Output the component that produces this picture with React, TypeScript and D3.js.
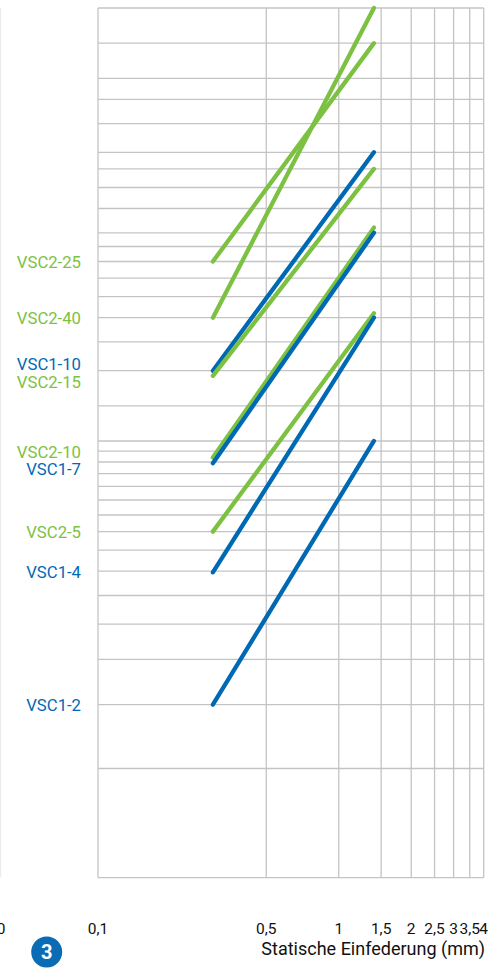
import React from "react";
import * as d3 from "d3";

const W = 493;
const H = 970;

const xTicks = [0.1, 0.5, 1, 1.5, 2, 2.5, 3, 3.5, 4];
const xTickLabels = ["0,1", "0,5", "1", "1,5", "2", "2,5", "3", "3,5", "4"];
const yGrid = [1, 2, 3, 4, 5, 6, 7, 8, 9, 10, 11, 12, 13, 14, 15, 16, 20, 25, 30, 35, 40, 45, 50, 55, 60, 70, 80, 90, 100, 120, 140, 160, 200, 250];

const seriesNames = ["VSC2-25", "VSC2-40", "VSC1-10", "VSC2-15", "VSC2-10", "VSC1-7", "VSC2-5", "VSC1-4", "VSC1-2"];
const seriesGroup = ["VSC2", "VSC2", "VSC1", "VSC2", "VSC2", "VSC1", "VSC2", "VSC1", "VSC1"];
const deflectionStart = [0.3, 0.3, 0.3, 0.3, 0.3, 0.3, 0.3, 0.3, 0.3];
const deflectionEnd = [1.4, 1.4, 1.4, 1.4, 1.4, 1.4, 1.4, 1.4, 1.4];
const loadStart = [50, 35, 25, 24.2, 14.4, 13.9, 9, 6.95, 3];
const loadEnd = [200, 250, 100, 90, 62, 60, 36, 35, 16];

const GREEN = "#7cc142";
const BLUE = "#0069b4";
const GRID = "#c4c4c4";

export default function App() {
  const x = d3.scaleLog().domain([0.1, 4]).range([98, 483.7]);
  const y = d3.scaleLog().domain([1, 250]).range([877.7, 8]);
  const line = d3
    .line<[number, number]>()
    .x((d) => x(d[0]))
    .y((d) => y(d[1]));

  const colorOf = (g: string) => (g === "VSC1" ? BLUE : GREEN);

  // label positions: start y, spread apart when too close
  const minGap = 17.7;
  const labels = seriesNames.map((n, i) => ({ n, i, y: y(loadStart[i]) }));
  const sorted = [...labels].sort((a, b) => a.y - b.y);
  for (let k = 0; k < sorted.length - 1; k++) {
    const a = sorted[k];
    const b = sorted[k + 1];
    if (b.y - a.y < minGap) {
      const c = (a.y + b.y) / 2;
      a.y = c - minGap / 2;
      b.y = c + minGap / 2;
    }
  }

  const font = "Roboto, 'Liberation Sans', sans-serif";
  const [x0, x1] = x.range();
  const [yb, yt] = y.range();

  // draw order: overlapping pair 7/8 green below blue
  const order = [0, 1, 2, 3, 4, 5, 6, 7, 8];

  return (
    <svg
      width={W}
      height={H}
      style={{ position: "absolute", left: 0, top: 0, background: "#fff" }}
    >
      <line x1={0.5} x2={0.5} y1={yt} y2={yb} stroke="#ececec" strokeWidth={1.3} />
      {yGrid.map((v) => (
        <line key={"h" + v} x1={x0} x2={x1} y1={y(v)} y2={y(v)} stroke={GRID} strokeWidth={1.3} />
      ))}
      {xTicks.map((v) => (
        <line key={"v" + v} x1={x(v)} x2={x(v)} y1={yt} y2={yb} stroke={GRID} strokeWidth={1.3} />
      ))}
      {order.map((i) => (
        <path
          key={seriesNames[i]}
          d={line([
            [deflectionStart[i], loadStart[i]],
            [deflectionEnd[i], loadEnd[i]],
          ]) as string}
          fill="none"
          stroke={colorOf(seriesGroup[i])}
          strokeWidth={4.3}
          strokeLinecap="round"
        />
      ))}
      {labels.map((l) => (
        <text
          key={"l" + l.n}
          x={81}
          y={l.y}
          dy="0.36em"
          textAnchor="end"
          fontFamily={font}
          fontSize={16.7}
          fill={colorOf(seriesGroup[l.i])}
        >
          {l.n}
        </text>
      ))}
      {xTicks.map((v, i) => (
        <text
          key={"t" + v}
          x={x(v)}
          y={934}
          textAnchor="middle"
          fontFamily={font}
          fontSize={15.5}
          fill="#111"
        >
          {xTickLabels[i]}
        </text>
      ))}
      <text x={5.5} y={934} textAnchor="end" fontFamily={font} fontSize={15.5} fill="#111">
        0
      </text>
      <text x={485} y={955} textAnchor="end" fontFamily={font} fontSize={18} fill="#111">
        Statische Einfederung (mm)
      </text>
      <circle cx={46.7} cy={952} r={15.5} fill="#0a6cb4" />
      <text
        x={46.7}
        y={952}
        dy="0.36em"
        textAnchor="middle"
        fontFamily={font}
        fontWeight="bold"
        fontSize={20}
        fill="#fff"
      >
        3
      </text>
    </svg>
  );
}
